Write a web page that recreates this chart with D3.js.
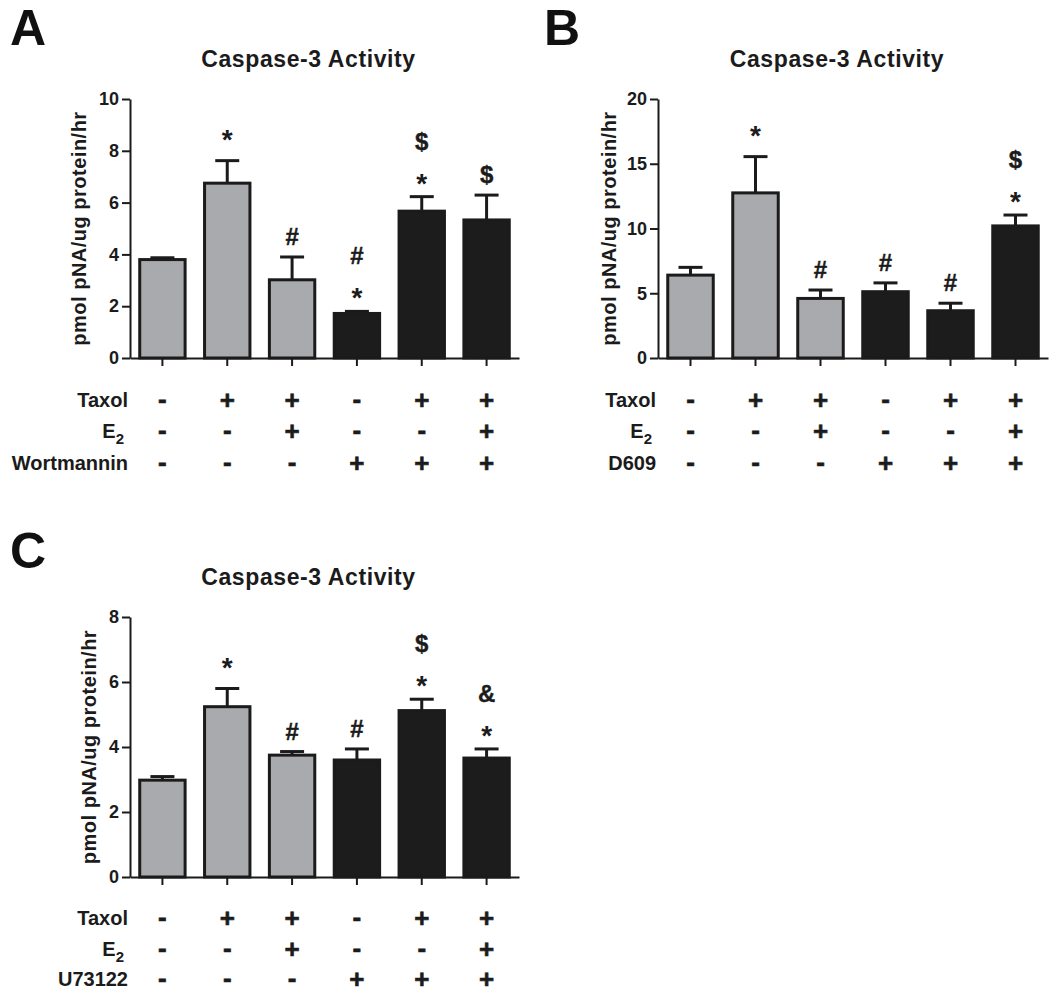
<!DOCTYPE html>
<html lang="en">
<head>
<meta charset="utf-8">
<title>Caspase-3 Activity</title>
<script src="https://cdn.jsdelivr.net/npm/d3@7"></script>
<style>
  body { margin: 0; background: #fff; }
  svg { display: block; font-family: "Liberation Sans", Arial, sans-serif; }
  .bar { stroke: #1b1b1b; stroke-width: 3px; }
  .err { stroke: #1b1b1b; stroke-width: 3px; fill: none; }
  .axis path, .axis line { stroke: #1b1b1b; stroke-width: 2px; }
  .axis text { font-size: 18px; font-weight: bold; fill: #1b1b1b; font-family: "Liberation Sans", Arial, sans-serif; }
  .title { font-size: 23px; font-weight: bold; letter-spacing: 0.6px; fill: #1b1b1b; }
  .ylabel { font-size: 20px; font-weight: bold; letter-spacing: 0.5px; fill: #1b1b1b; }
  .letter { font-size: 50px; font-weight: bold; fill: #111; }
  .mark { font-size: 24px; font-weight: bold; fill: #1b1b1b; stroke: #1b1b1b; stroke-width: 0.4px; }
  .mark.star { font-size: 28px; stroke-width: 0; }
  .rowlab { font-size: 20px; font-weight: bold; fill: #1b1b1b; }
  .sign { font-size: 26px; font-weight: bold; fill: #1b1b1b; stroke: #1b1b1b; stroke-width: 0.6px; }
</style>
</head>
<body>
<svg id="fig" width="1050" height="994"></svg>
<script>
// groups (one bar per treatment combination)
var groups = ["g1", "g2", "g3", "g4", "g5", "g6"];

// panel A: Wortmannin
var meanA = [3.8, 6.75, 3.02, 1.72, 5.67, 5.33];
var semA  = [0.07, 0.87, 0.88, 0.08, 0.56, 0.96];
var markA = [[], ["*"], ["#"], ["#", "*"], ["$", "*"], ["$"]];

// panel B: D609
var meanB = [6.4, 12.75, 4.6, 5.12, 3.65, 10.2];
var semB  = [0.6, 2.8, 0.65, 0.68, 0.58, 0.84];
var markB = [[], ["*"], ["#"], ["#"], ["#"], ["$", "*"]];

// panel C: U73122
var meanC = [2.98, 5.24, 3.75, 3.6, 5.12, 3.66];
var semC  = [0.11, 0.56, 0.11, 0.34, 0.35, 0.28];
var markC = [[], ["*"], ["#"], ["#"], ["$", "*"], ["&", "*"]];

// treatment table
var taxol     = ["-", "+", "+", "-", "+", "+"];
var e2        = ["-", "-", "+", "-", "-", "+"];
var inhibitor = ["-", "-", "-", "+", "+", "+"];

var ticksA = [0, 2, 4, 6, 8, 10];
var ticksB = [0, 5, 10, 15, 20];
var ticksC = [0, 2, 4, 6, 8];

var gray = "#a8aaad", black = "#1c1c1c";
var fills = [gray, gray, gray, black, black, black];

var svg = d3.select("#fig");

var panels = [
  {letter: "A", lx: 10, ly: 45, left: 130, right: 519, top: 99, bottom: 358, ylabDx: 44,
   rowDy: [42, 73, 105], mean: meanA, sem: semA, marks: markA, ticks: ticksA, inh: "Wortmannin"},
  {letter: "B", lx: 544, ly: 45, left: 658, right: 1048, top: 99, bottom: 358, ylabDx: 42,
   rowDy: [42, 73, 105], mean: meanB, sem: semB, marks: markB, ticks: ticksB, inh: "D609"},
  {letter: "C", lx: 10, ly: 568, left: 130, right: 519, top: 617, bottom: 877, ylabDx: 34,
   rowDy: [41, 72, 102], mean: meanC, sem: semC, marks: markC, ticks: ticksC, inh: "U73122"}
];

panels.forEach(function(p) {
  var g = svg.append("g");

  var x = d3.scaleBand()
      .domain(groups)
      .range([p.left, p.right])
      .paddingInner(0.3)
      .paddingOuter(0.15);

  var y = d3.scaleLinear()
      .domain([0, p.ticks[p.ticks.length - 1]])
      .range([p.bottom, p.top]);

  var cx = function(k) { return x(k) + x.bandwidth() / 2; };

  var data = groups.map(function(k, i) {
    return {key: k, mean: p.mean[i], sem: p.sem[i], marks: p.marks[i], fill: fills[i]};
  });

  // panel letter and title
  g.append("text").attr("class", "letter")
      .attr("x", p.lx).attr("y", p.ly).text(p.letter);

  g.append("text").attr("class", "title")
      .attr("x", (p.left + p.right) / 2 - 16).attr("y", p.top - 32)
      .attr("text-anchor", "middle")
      .text("Caspase-3 Activity");

  // error bars (drawn first so bar outline covers the foot)
  var eb = g.selectAll(".eb").data(data).enter().append("g");
  eb.append("line").attr("class", "err")
      .attr("x1", function(d) { return cx(d.key); })
      .attr("x2", function(d) { return cx(d.key); })
      .attr("y1", function(d) { return y(d.mean); })
      .attr("y2", function(d) { return y(d.mean + d.sem); });
  eb.append("line").attr("class", "err")
      .attr("x1", function(d) { return cx(d.key) - 12; })
      .attr("x2", function(d) { return cx(d.key) + 12; })
      .attr("y1", function(d) { return y(d.mean + d.sem); })
      .attr("y2", function(d) { return y(d.mean + d.sem); });

  // bars
  g.selectAll(".bar").data(data).enter().append("rect")
      .attr("class", "bar")
      .attr("x", function(d) { return x(d.key); })
      .attr("y", function(d) { return y(d.mean); })
      .attr("width", x.bandwidth())
      .attr("height", function(d) { return y(0) - y(d.mean); })
      .attr("fill", function(d) { return d.fill; });

  // significance marks, stacked upward from the error bar
  data.forEach(function(d) {
    var n = d.marks.length;
    var base = y(d.mean + d.sem) - (n > 1 ? 4 : 12);
    d.marks.forEach(function(m, j) {
      g.append("text").attr("class", m === "*" ? "mark star" : "mark")
          .attr("x", cx(d.key))
          .attr("y", base - (n - 1 - j) * 43)
          .attr("text-anchor", "middle")
          .text(m);
    });
  });

  // axes
  g.append("g").attr("class", "axis")
      .attr("transform", "translate(" + p.left + ",0)")
      .call(d3.axisLeft(y).tickValues(p.ticks).tickSize(8).tickSizeOuter(0).tickPadding(3));

  g.append("g").attr("class", "axis")
      .attr("transform", "translate(0," + p.bottom + ")")
      .call(d3.axisBottom(x).tickSize(8).tickSizeOuter(0).tickFormat(""));

  // y label
  g.append("text").attr("class", "ylabel")
      .attr("transform", "translate(" + (p.left - p.ylabDx) + "," + ((p.top + p.bottom) / 2) + ") rotate(-90)")
      .attr("text-anchor", "middle")
      .text("pmol pNA/ug protein/hr");

  // treatment table
  var rows = [
    {label: "Taxol", vals: taxol},
    {label: "E", sub: "2", vals: e2},
    {label: p.inh, vals: inhibitor}
  ];
  rows.forEach(function(r, ri) {
    var cy = p.bottom + p.rowDy[ri];
    var t = g.append("text").attr("class", "rowlab")
        .attr("x", p.left - 2).attr("y", cy + 7)
        .attr("text-anchor", "end")
        .text(r.label);
    if (r.sub) {
      t.append("tspan").attr("font-size", "15px").attr("dy", 6).text(r.sub);
      t.attr("x", p.left - 6);
    }
    g.selectAll(null).data(r.vals).enter().append("text")
        .attr("class", "sign")
        .attr("x", function(v, i) { return cx(groups[i]); })
        .attr("y", function(v) { return v === "+" ? cy + 9 : cy + 8; })
        .attr("text-anchor", "middle")
        .text(function(v) { return v; });
  });
});
</script>
</body>
</html>
